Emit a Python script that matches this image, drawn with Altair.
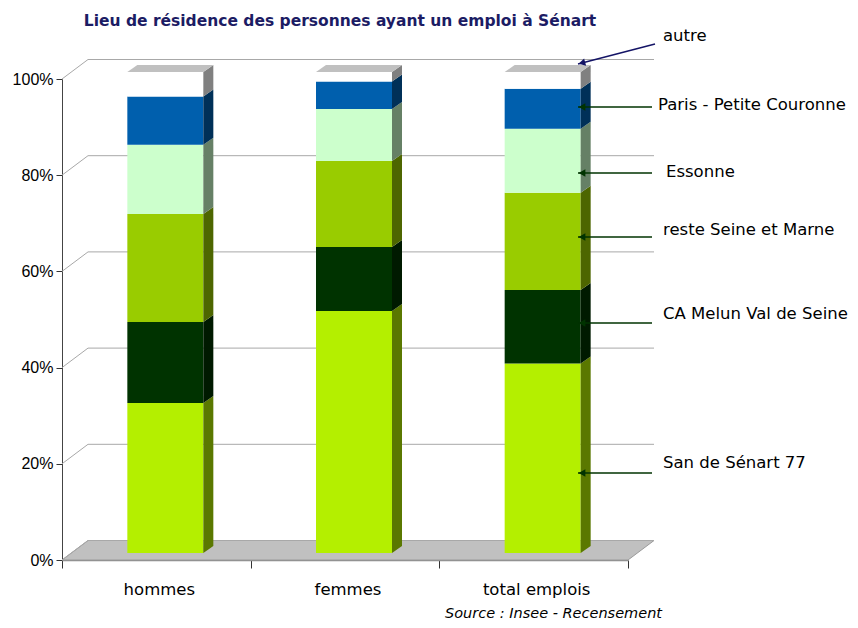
import altair as alt
import pandas as pd

# ---------------- data ----------------
categories = ["hommes", "femmes", "total emplois"]
segments = ["San de Sénart 77", "CA Melun Val de Seine", "reste Seine et Marne",
            "Essonne", "Paris - Petite Couronne", "autre"]
hommes = [31.2, 16.8, 22.5, 14.4, 10.0, 5.1]
femmes = [50.3, 13.3, 17.9, 10.8, 5.7, 2.0]
total_emplois = [39.4, 15.3, 20.2, 13.3, 8.3, 3.5]
y_ticks = [0, 20, 40, 60, 80, 100]

front_colors = ["#b4ef00", "#003300", "#99cc00", "#ccffcc", "#005fad", "#ffffff"]
side_colors = ["#5a7800", "#001a00", "#4d6600", "#668066", "#003058", "#808080"]
top_color = "#c0c0c0"

title_text = "Lieu de résidence des personnes ayant un emploi à Sénart"
source_text = "Source : Insee - Recensement"

# ---------------- geometry helpers (page px -> data units) ----------------
X0, X1 = 62, 628
Y0, Y1 = 560, 79
W = X1 - X0
H = Y0 - Y1
ux = 3.0 / W
uy = 100.0 / H
def px_x(p): return (p - X0) * ux
def px_y(p): return (Y0 - p) * uy

DX = 26 * ux          # depth of back wall
DY = 19.5 * uy
BX = 9 * ux           # bars sit mid-depth
BY = 7 * uy
BW = 38 * ux          # half bar width
SDX = 10 * ux         # bar side face depth
SDY = 7 * uy

series = [hommes, femmes, total_emplois]

front_rows, side_rows, top_rows = [], [], []
for i, (cat, vals) in enumerate(zip(categories, series)):
    c = i + 0.5 + BX
    lo = 0.0
    for j, (seg, v) in enumerate(zip(segments, vals)):
        hi = lo + v
        front_rows.append(dict(cat=cat, seg=seg, x=c - BW, x2=c + BW,
                               y=lo + BY, y2=hi + BY, col=front_colors[j]))
        g = f"{i}-{j}"
        side_rows.append(dict(g=g, x=c + BW, y=hi + BY, y2=lo + BY, col=side_colors[j]))
        side_rows.append(dict(g=g, x=c + BW + SDX, y=hi + BY + SDY, y2=lo + BY + SDY, col=side_colors[j]))
        lo = hi
    T = lo + BY
    top_rows += [
        dict(g=i, x=c - BW, y=T, y2=T),
        dict(g=i, x=c - BW + SDX, y=T + SDY, y2=T),
        dict(g=i, x=c + BW, y=T + SDY, y2=T),
        dict(g=i, x=c + BW + SDX, y=T + SDY, y2=T + SDY),
    ]

front_df = pd.DataFrame(front_rows)
side_df = pd.DataFrame(side_rows)
top_df = pd.DataFrame(top_rows)

floor_df = pd.DataFrame(dict(x=[0, DX, 3, 3 + DX], y=[0, DY, DY, DY], y2=[0, 0, 0, DY]))

grid_rows = []
for v in y_ticks:
    grid_rows += [dict(g=v, x=0, y=v), dict(g=v, x=DX, y=v + DY), dict(g=v, x=3 + DX, y=v + DY)]
grid_df = pd.DataFrame(grid_rows)

# annotations (label page positions)
ann_label = ["autre", "Paris - Petite Couronne", "Essonne", "reste Seine et Marne",
             "CA Melun Val de Seine", "San de Sénart 77"]
ann_tx = [663, 658, 666, 663, 663, 663]
ann_ty = [36, 105, 172, 230, 314, 463]
ann_x1 = [655, 652, 652, 652, 652, 652]
ann_y1 = [44, 107, 173, 237, 323, 473]
ann_x2 = [578, 578, 578, 578, 578, 578]
ann_y2 = [64, 107, 173, 237, 323, 473]
ann_col = ["#141466", "#003300", "#003300", "#003300", "#003300", "#003300"]
ann_ang = [345, 0, 0, 0, 0, 0]

ann_df = pd.DataFrame(dict(
    label=ann_label,
    tx=[px_x(v) for v in ann_tx], ty=[px_y(v) for v in ann_ty],
    x=[px_x(v) for v in ann_x1], y=[px_y(v) for v in ann_y1],
    x2=[px_x(v) for v in ann_x2], y2=[px_y(v) for v in ann_y2],
    hx=[px_x(a + 4 * (1 if b == c else 0.97)) for a, b, c in zip(ann_x2, ann_y1, ann_y2)],
    hy=[px_y(b - (1 if b != a else 0)) for a, b in zip(ann_y1, ann_y2)],
    col=ann_col, ang=ann_ang,
))

cat_df = pd.DataFrame(dict(cat=categories, x=[i + 0.5 + 3 * ux for i in range(3)],
                           y=[px_y(590)] * 3))
title_df = pd.DataFrame(dict(t=[title_text], x=[px_x(340)], y=[px_y(21)]))
source_df = pd.DataFrame(dict(t=[source_text], x=[px_x(445)], y=[px_y(614)]))

# ---------------- encodings ----------------
XS = alt.Scale(domain=[0, 3], nice=False, zero=False)
YS = alt.Scale(domain=[0, 100], nice=False, zero=False)
XA = alt.Axis(values=[0, 1, 2, 3], labels=False, grid=False, title=None, tickSize=8,
              domainColor="#8a8a8a", tickColor="#333333", domainWidth=1.5)
YA = alt.Axis(values=y_ticks, labelExpr="datum.value + '%'", grid=False, title=None,
              tickSize=6, domainColor="#444444", tickColor="#333333",
              labelFont="Liberation Sans", labelFontSize=16, labelColor="#000000",
              labelPadding=3)

def X(f="x"): return alt.X(f"{f}:Q", scale=XS, axis=XA)
def Y(f="y"): return alt.Y(f"{f}:Q", scale=YS, axis=YA)

floor = alt.Chart(floor_df).mark_area(color=top_color, stroke="#9a9a9a", strokeWidth=1,
                                       orient="vertical").encode(
    x=X(), y=Y(), y2="y2:Q")

grid = alt.Chart(grid_df).mark_line(color="#a8a8a8", strokeWidth=1).encode(
    x=X(), y=Y(), detail="g:N")

front = alt.Chart(front_df).mark_bar().encode(
    x=X(), x2="x2:Q", y=Y(), y2="y2:Q",
    color=alt.Color("col:N", scale=None))

side = alt.Chart(side_df).mark_area(orient="vertical").encode(
    x=X(), y=Y(), y2="y2:Q", detail="g:N",
    color=alt.Color("col:N", scale=None))

top = alt.Chart(top_df).mark_area(orient="vertical", color=top_color).encode(
    x=X(), y=Y(), y2="y2:Q", detail="g:N")

arrows = alt.Chart(ann_df).mark_rule(strokeWidth=1.5).encode(
    x=X(), y=Y(), x2="x2:Q", y2="y2:Q", color=alt.Color("col:N", scale=None))

heads = alt.Chart(ann_df).mark_point(shape="triangle-left", filled=True, size=60, opacity=1).encode(
    x=X("hx"), y=Y("hy"), color=alt.Color("col:N", scale=None),
    angle=alt.Angle("ang:Q", scale=None))

ann_text = alt.Chart(ann_df).mark_text(align="left", baseline="middle", font="DejaVu Sans",
                                       fontSize=16.5, color="#000000").encode(
    x=X("tx"), y=Y("ty"), text="label:N")

cat_text = alt.Chart(cat_df).mark_text(align="center", baseline="middle", font="DejaVu Sans",
                                       fontSize=16.5, color="#000000").encode(
    x=X(), y=Y(), text="cat:N")

title = alt.Chart(title_df).mark_text(align="center", baseline="middle", font="DejaVu Sans",
                                      fontSize=15.5, fontWeight="bold", color="#1c1c64").encode(
    x=X(), y=Y(), text="t:N")

source = alt.Chart(source_df).mark_text(align="left", baseline="middle", font="DejaVu Sans",
                                        fontSize=14.5, fontStyle="italic", color="#000000").encode(
    x=X(), y=Y(), text="t:N")

chart = alt.layer(floor, grid, front, side, top, arrows, heads, ann_text, cat_text, title, source).properties(
    width=W, height=H,
    padding={"left": X0 - 8, "top": Y1 - 8, "right": 842 - (X0 - 8) - W, "bottom": 62},
    autosize=alt.AutoSizeParams(type="none"),
    background="#ffffff",
).configure_view(stroke=None)

chart.save("out.html", embed_options={"renderer": "svg", "actions": False})
